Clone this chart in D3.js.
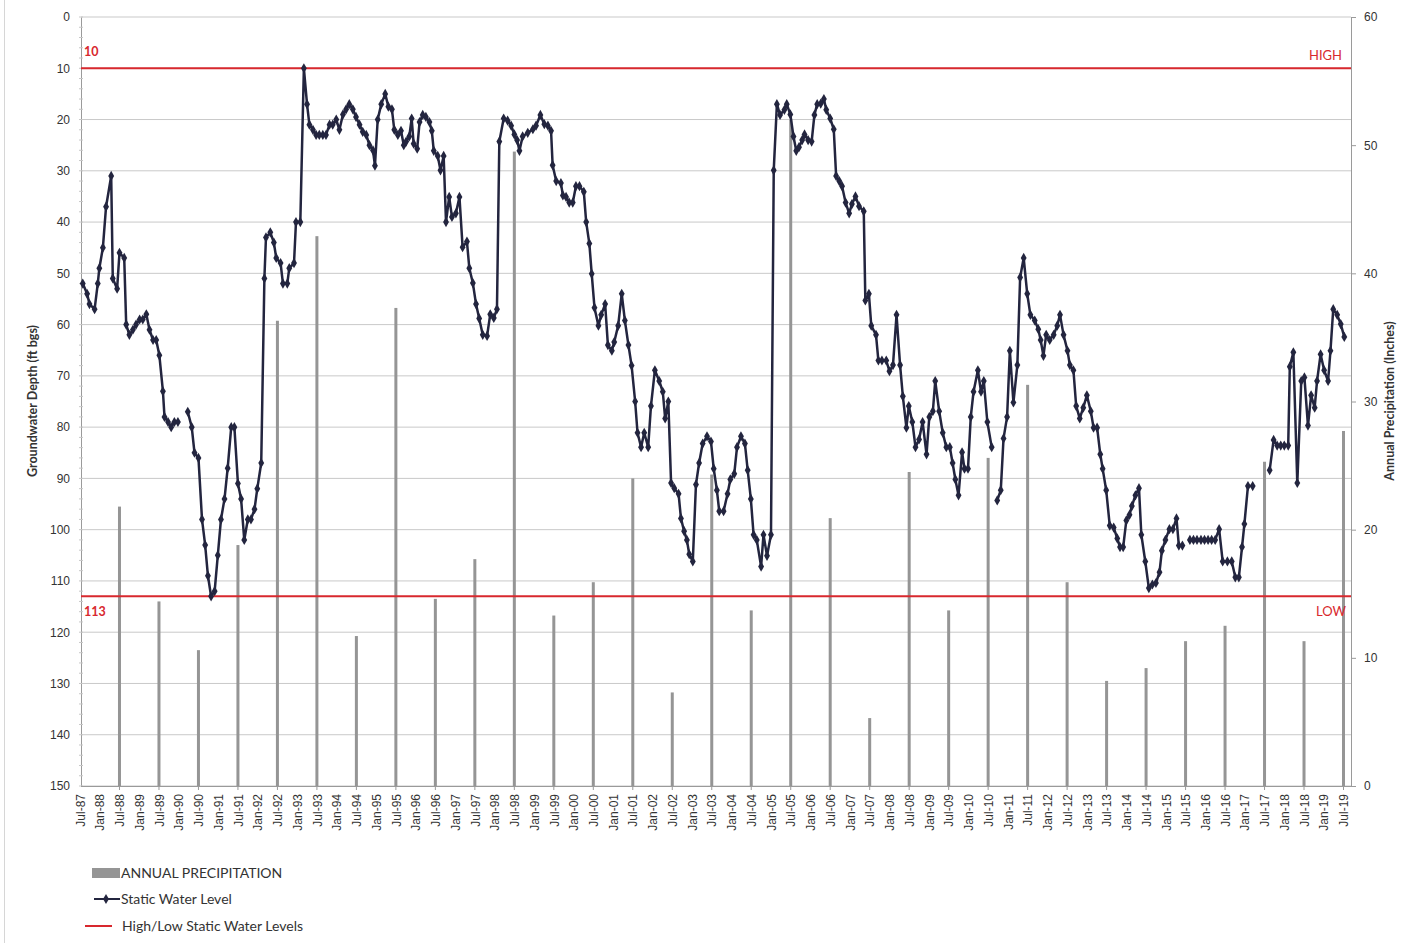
<!DOCTYPE html>
<html><head><meta charset="utf-8">
<script src="https://cdn.jsdelivr.net/npm/d3@7"></script>
<style>
html,body{margin:0;padding:0;background:#fff;}
svg{display:block;font-family:Lato,"Open Sans","Noto Sans",sans-serif;}
</style></head>
<body>
<script>
// ---------- DATA ----------
// Static water level: decimal-year dates and depth (ft bgs); null = gap
const wlDate = [
1987.57,1987.68,1987.74,1987.87,1987.95,1987.99,1988.08,1988.16,1988.29,1988.33,1988.44,1988.50,1988.62,1988.67,1988.75,1988.84,1988.92,1989.01,1989.09,1989.18,1989.26,1989.35,1989.43,1989.51,1989.60,1989.64,1989.73,1989.81,1989.89,1989.98,
null,
1990.23,1990.33,1990.40,1990.50,1990.59,1990.67,1990.74,1990.82,1990.91,1990.99,1991.07,1991.16,1991.24,1991.33,1991.41,1991.50,1991.58,1991.66,1991.75,1991.83,1991.92,1991.99,1992.09,1992.17,1992.21,1992.32,1992.41,1992.47,1992.58,1992.64,1992.75,1992.80,1992.92,1992.97,1993.08,
1993.17,1993.25,1993.31,1993.40,1993.48,1993.56,1993.65,1993.73,1993.82,1993.90,1993.99,1994.07,1994.16,1994.24,1994.32,1994.41,1994.49,1994.58,1994.66,1994.75,1994.83,1994.92,1994.97,1995.04,1995.13,1995.23,1995.31,1995.40,1995.46,1995.55,
1995.63,1995.70,1995.76,1995.84,1995.90,1995.95,1996.04,1996.10,1996.18,1996.26,1996.35,1996.41,1996.46,1996.56,1996.63,1996.71,1996.77,1996.85,1996.92,1997.02,1997.11,1997.19,1997.30,1997.36,1997.45,1997.53,1997.61,1997.70,1997.81,1997.89,1997.98,1998.06,
1998.12,1998.23,1998.33,1998.42,1998.50,1998.57,1998.63,1998.71,1998.84,1998.97,1999.05,1999.16,1999.26,1999.35,1999.43,1999.47,1999.56,1999.68,1999.73,1999.81,1999.89,1999.98,2000.06,2000.15,2000.26,2000.32,2000.40,2000.46,2000.53,2000.63,2000.70,2000.80,2000.87,2000.97,
2001.03,2001.13,2001.22,2001.30,2001.39,2001.47,2001.56,2001.62,2001.71,2001.79,2001.89,2001.96,2002.06,2002.17,2002.26,2002.32,2002.40,2002.47,2002.55,2002.66,2002.72,2002.80,2002.87,2002.93,2003.02,2003.10,2003.18,2003.27,2003.38,2003.48,2003.55,2003.63,2003.69,2003.80,2003.90,2003.97,
2004.07,2004.14,2004.24,2004.34,2004.41,2004.49,2004.56,2004.64,2004.75,2004.81,2004.90,2005.00,2005.07,2005.15,2005.23,2005.34,2005.40,2005.49,2005.57,2005.64,2005.71,2005.79,2005.85,2005.94,2006.03,2006.10,2006.17,2006.26,2006.34,2006.40,2006.50,2006.59,2006.65,2006.73,2006.80,2006.89,2006.98,
2007.05,2007.14,2007.23,2007.35,2007.39,2007.48,2007.54,2007.66,2007.72,2007.81,2007.92,2008.00,2008.09,2008.18,2008.27,2008.34,2008.43,2008.49,2008.58,2008.66,2008.75,2008.84,2008.94,2009.01,2009.10,2009.16,2009.26,2009.35,2009.44,2009.53,2009.60,2009.67,2009.75,2009.84,2009.90,2009.99,
2010.06,2010.13,2010.24,2010.32,2010.39,2010.48,2010.59,
null,
2010.73,2010.82,2010.89,2010.98,2011.05,2011.14,2011.24,2011.31,2011.40,2011.49,2011.57,2011.68,2011.77,2011.83,2011.90,2011.97,2012.06,2012.16,2012.25,2012.32,2012.41,2012.51,2012.57,2012.66,2012.73,2012.82,2012.91,2013.00,2013.10,2013.17,2013.26,2013.34,2013.40,2013.49,2013.58,2013.68,2013.77,2013.84,2013.92,
2014.00,2014.08,2014.14,2014.23,2014.32,2014.38,2014.48,2014.57,2014.66,2014.75,2014.84,2014.90,2014.99,2015.09,2015.18,2015.27,2015.33,2015.42,
null,
2015.61,2015.70,2015.79,2015.89,2015.98,2016.07,2016.16,2016.25,2016.35,2016.44,2016.56,2016.67,2016.76,2016.85,2016.93,2016.99,2017.08,2017.20,
null,
2017.63,2017.73,2017.82,2017.91,2018.00,2018.10,2018.14,2018.23,2018.33,2018.43,2018.51,2018.60,2018.68,2018.77,2018.83,2018.92,2019.01,2019.11,2019.17,2019.24,2019.34,2019.43,2019.52
];
const wlDepth = [
52,54,56,57,52,49,45,37,31,51,53,46,47,60,62,61,60,59,59,58,61,63,63,66,73,78,79,80,79,79,
null,
77,80,85,86,98,103,109,113,112,105,98,94,88,80,80,91,94,102,98,98,96,92,87,51,43,42,44,47,48,52,52,49,48,40,40,
10,17,21,22,23,23,23,23,21,21,20,22,19,18,17,18,19.5,21,22.4,23,25,26,29,20,17,15,17.5,18,22,23,
22.2,25,24.3,23.3,19.8,24.7,25.7,20.5,19.1,19.5,20.5,22.2,26.1,27.1,29.9,27.1,40,35.1,39,38.3,35.1,44.9,43.8,49,51.9,56,58.8,62,62.2,58,58.7,57,
24.3,19.8,20.2,21.2,22.9,24,26.1,23.3,22.6,21.9,21.2,19.1,20.9,21.2,22.2,28.9,32,32.4,34.8,35.1,36.2,36.2,33,33,34.1,40,44.2,50.1,56.7,60.2,58.1,56,64,65.1,
63.4,60.2,54,59.2,64,68,75,81.1,83.9,81.1,83.9,75.9,68.9,71,73.1,78.3,75,90.9,91.9,93,97.8,100.3,102,104.8,106.2,91.2,87,83.2,81.8,82.8,88.1,92.3,96.4,96.4,93,90.2,
89.1,83.9,81.8,83.2,88.4,94,101,102,107.2,101,105.1,101,29.9,17,19.1,18.1,17,19,23.3,26.1,25.4,24,22.9,24,24.3,19.1,17,16.9,16,18.1,19.8,21.9,31,32,33,36.2,38.3,
36.5,35,36.9,37.9,55.3,54,60.2,62,67,67,67,69.1,67.9,58.1,67.9,74,80.1,75.9,79,83.9,82.4,79,85.3,78,76.9,71,76.9,81.1,83.9,83.9,87,90.2,93.3,84.9,88.1,88.1,
78,73.1,68.9,73.1,71,79,83.9,
null,
94.3,92.3,82.2,78,65.1,75.2,67.9,50.8,47,54,58.1,59.2,60.9,63,66.1,62,63,62,60.2,58.1,62,65.1,67.9,68.9,75.9,78.3,76.2,73.8,76.9,80.1,80.1,85.3,88.1,92.3,99.2,99.6,101.7,103.4,103.4,
98.2,97.1,95.4,93.3,91.9,101,106.2,111.4,110.7,110.4,108.3,104.1,102,99.9,99.9,97.8,103.1,103.1,
null,
102,102,102,102,102,102,102,102,99.9,106.2,106.2,106.2,109.3,109.3,103.4,98.9,91.5,91.5,
null,
88.4,82.5,83.6,83.6,83.6,83.6,68.2,65.4,90.9,71,70.3,79.7,73.8,76.2,71,65.8,68.9,71,65.1,57,58.1,59.9,62.4
];
// Annual precipitation (inches), plotted each July
const precipYear = [1988,1989,1990,1991,1992,1993,1994,1995,1996,1997,1998,1999,2000,2001,2002,2003,2004,2005,2006,2007,2008,2009,2010,2011,2012,2013,2014,2015,2016,2017,2018,2019];
const precipInches = [21.8,14.4,10.6,18.8,36.3,42.9,11.7,37.3,14.6,17.7,49.5,13.3,15.9,24.0,7.3,24.3,13.7,52.0,20.9,5.3,24.5,13.7,25.6,31.3,15.9,8.2,9.2,11.3,12.5,25.3,11.3,27.7];
// High / low reference levels
const refLevels = [10, 113];
const refNames = ["HIGH", "LOW"];
// Axis ticks
const depthTicks = d3.range(0, 151, 10);
const precipTicks = [0,10,20,30,40,50,60];
const xTickYears = d3.range(1987.5, 2019.51, 0.5);
const xTickLabels = xTickYears.map(v => (v % 1 ? "Jul" : "Jan") + "-" + String(Math.floor(v) % 100).padStart(2, "0"));
const legendLabels = ["ANNUAL PRECIPITATION", "Static Water Level", "High/Low Static Water Levels"];

// ---------- LAYOUT ----------
const W = 1415, H = 943;
const L = 81, R = 1351, T = 17, B = 786;
const svg = d3.select("body").append("svg").attr("width", W).attr("height", H);

const x = d3.scaleLinear().domain([1987.5, 2019.5]).range([80, 1343.5]);
const y = d3.scaleLinear().domain([0, 150]).range([T, B]);
const y2 = d3.scaleLinear().domain([0, 60]).range([B, T]);

const navy = "#23253f", red = "#d8282e", grid = "#c9c9c9", txt = "#333";

// page border artefact
svg.append("line").attr("x1", 4.5).attr("x2", 4.5).attr("y1", 0).attr("y2", H).attr("stroke", "#d6d6d6");

// gridlines
svg.append("g").selectAll("line").data(depthTicks).join("line")
  .attr("x1", L).attr("x2", R).attr("y1", d => y(d)).attr("y2", d => y(d))
  .attr("stroke", grid).attr("stroke-width", 1);

// left axis
const gL = svg.append("g").attr("transform", `translate(${L},0)`)
  .call(d3.axisLeft(y).tickValues(depthTicks).tickSize(0).tickPadding(11));
gL.select(".domain").attr("stroke", "#9a9a9a");
gL.selectAll("text").attr("font-size", 12).attr("fill", txt);
// minor ticks
svg.append("g").selectAll("line").data(d3.range(0, 151, 2)).join("line")
  .attr("x1", L - 2).attr("x2", L + 2).attr("y1", d => y(d)).attr("y2", d => y(d))
  .attr("stroke", "#c8c8c8");

// right axis
const gR = svg.append("g").attr("transform", `translate(${R},0)`)
  .call(d3.axisRight(y2).tickValues(precipTicks).tickSize(5).tickPadding(8));
gR.select(".domain").attr("stroke", "#9a9a9a");
gR.selectAll(".tick line").attr("stroke", "#9a9a9a");
gR.selectAll("text").attr("font-size", 12).attr("fill", txt);

// bottom axis
const gB = svg.append("g").attr("transform", `translate(0,${B})`)
  .call(d3.axisBottom(x).tickValues(xTickYears).tickFormat((d, i) => xTickLabels[i]).tickSize(0).tickPadding(0));
gB.select(".domain").attr("stroke", "#9a9a9a").attr("d", `M${L},0.5H${R}`);
gB.selectAll(".tick text").attr("font-size", 12).attr("fill", txt)
  .attr("text-anchor", "end").attr("dy", "0.35em")
  .attr("transform", "translate(0,8) rotate(-90)");
// yearly tick marks
svg.append("g").selectAll("line").data(d3.range(1988.5, 2019.51, 1)).join("line")
  .attr("x1", d => x(d)).attr("x2", d => x(d)).attr("y1", B - 3).attr("y2", B + 4)
  .attr("stroke", "#9a9a9a");

// precipitation bars
svg.append("g").selectAll("rect").data(precipYear.map((yr, i) => ({yr, v: precipInches[i]}))).join("rect")
  .attr("x", d => x(d.yr + 0.5) - 1.5).attr("width", 3)
  .attr("y", d => y2(d.v)).attr("height", d => B - y2(d.v))
  .attr("fill", "#959595");

// high/low lines
svg.append("g").selectAll("line").data(refLevels).join("line")
  .attr("x1", L).attr("x2", R).attr("y1", d => y(d)).attr("y2", d => y(d))
  .attr("stroke", red).attr("stroke-width", 2);
svg.selectAll(".refnum").data(refLevels).join("text").attr("class", "refnum")
  .attr("x", 84).attr("y", (d, i) => y(d) + (i === 0 ? -12 : 20))
  .attr("font-size", 12.5).attr("font-weight", "bold").attr("fill", red).text(d => d);
svg.selectAll(".refname").data(refLevels).join("text").attr("class", "refname")
  .attr("x", (d, i) => i === 0 ? 1342 : 1346).attr("y", (d, i) => y(d) + (i === 0 ? -8 : 20))
  .attr("text-anchor", "end").attr("font-size", 13).attr("fill", red).text((d, i) => refNames[i]);

// water level line
const pts = wlDate.map((d, i) => ({t: d, v: wlDepth[i]}));
const line = d3.line().defined(d => d.v !== null).x(d => x(d.t)).y(d => y(d.v));
svg.append("path").datum(pts).attr("d", line).attr("fill", "none")
  .attr("stroke", navy).attr("stroke-width", 2.5).attr("stroke-linejoin", "round");
const diamond = d3.symbol().type(d3.symbolDiamond).size(30);
svg.append("g").selectAll("path").data(pts.filter(d => d.v !== null)).join("path")
  .attr("d", diamond).attr("transform", d => `translate(${x(d.t)},${y(d.v)})`)
  .attr("fill", navy);

// axis titles
svg.append("text").attr("transform", "translate(37,401) rotate(-90)").attr("text-anchor", "middle")
  .attr("font-size", 12.5).attr("font-weight", "bold").attr("fill", txt).text("Groundwater Depth (ft bgs)");
svg.append("text").attr("transform", "translate(1394,401) rotate(-90)").attr("text-anchor", "middle")
  .attr("font-size", 12.5).attr("font-weight", "bold").attr("fill", txt).text("Annual Precipitation (Inches)");

// legend
const lg = svg.append("g");
lg.append("rect").attr("x", 92).attr("y", 868).attr("width", 28).attr("height", 10).attr("fill", "#959595");
lg.append("line").attr("x1", 94).attr("x2", 120).attr("y1", 899).attr("y2", 899).attr("stroke", navy).attr("stroke-width", 2);
lg.append("path").attr("d", diamond).attr("transform", "translate(106,899)").attr("fill", navy);
lg.append("line").attr("x1", 85).attr("x2", 112).attr("y1", 926).attr("y2", 926).attr("stroke", red).attr("stroke-width", 2);
lg.selectAll("text").data(legendLabels).join("text")
  .attr("x", (d, i) => i === 2 ? 122 : 121).attr("y", (d, i) => [878, 904, 931][i])
  .attr("font-size", 14).attr("fill", txt).text(d => d);
</script>
</body></html>
